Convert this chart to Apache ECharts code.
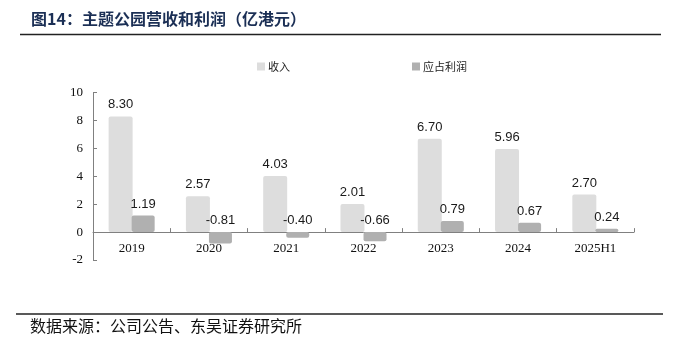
<!DOCTYPE html>
<html>
<head>
<meta charset="utf-8">
<script src="https://cdn.jsdelivr.net/npm/echarts@6/dist/echarts.min.js"></script>
<style>
html,body{margin:0;padding:0;background:#fff;}
#c{width:680px;height:349px;}
</style>
</head>
<body>
<div id="c"></div>
<script>
var categories = ['2019', '2020', '2021', '2022', '2023', '2024', '2025H1'];
var revenue = [8.30, 2.57, 4.03, 2.01, 6.70, 5.96, 2.70];
var profit = [1.19, -0.81, -0.40, -0.66, 0.79, 0.67, 0.24];
var seriesNames = ['收入', '应占利润'];
var yTicks = {min: -2, max: 10, interval: 2};

var chart = echarts.init(document.getElementById('c'), null, {renderer: 'canvas'});

var labelStyle = {
  show: true,
  position: 'top',
  distance: 5,
  fontFamily: 'Liberation Sans, Arial, sans-serif',
  fontSize: 13,
  color: '#1a1a1a',
  formatter: function (p) { return p.value.toFixed(2); }
};

chart.setOption({
  animation: false,
  backgroundColor: '#fff',
  graphic: [
    {type: 'text', left: 31, top: 11, style: {text: '图14：主题公园营收和利润（亿港元）', fontFamily: 'Noto Sans CJK SC', fontSize: 16, fontWeight: 'bold', fill: '#1B2F55'}},
    {type: 'line', shape: {x1: 20, y1: 34.5, x2: 661, y2: 34.5}, style: {stroke: '#222', lineWidth: 1.6}},
    {type: 'line', shape: {x1: 16, y1: 314, x2: 663, y2: 314}, style: {stroke: '#222', lineWidth: 1.6}},
    {type: 'text', left: 30, top: 318, style: {text: '数据来源：公司公告、东吴证券研究所', fontFamily: 'Noto Sans CJK SC', fontSize: 16, fill: '#111'}}
  ],
  legend: {
    data: seriesNames,
    left: 252,
    top: 56,
    itemWidth: 8,
    itemHeight: 8,
    itemGap: 122,
    icon: 'rect',
    textStyle: {fontFamily: 'Noto Sans CJK SC', fontSize: 11, color: '#222', padding: [0, 0, 0, -2]}
  },
  grid: {left: 93, right: 46, top: 92.7, bottom: 89, containLabel: false},
  xAxis: {
    type: 'category',
    data: categories,
    axisLine: {onZero: true, lineStyle: {color: '#808080', width: 1}},
    axisTick: {show: true, inside: true, length: 4, lineStyle: {color: '#808080'}},
    axisLabel: {fontFamily: 'Liberation Serif, Times New Roman, serif', fontSize: 13, color: '#111', margin: -18}
  },
  yAxis: {
    type: 'value',
    min: yTicks.min,
    max: yTicks.max,
    interval: yTicks.interval,
    splitLine: {show: false},
    axisLine: {show: true, lineStyle: {color: '#808080', width: 1}},
    axisTick: {show: true, inside: true, length: 4, lineStyle: {color: '#808080'}},
    axisLabel: {fontFamily: 'Liberation Serif, Times New Roman, serif', fontSize: 13, color: '#111', margin: 10}
  },
  series: [
    {
      name: seriesNames[0],
      type: 'bar',
      data: revenue,
      barWidth: 24,
      barGap: '-4%',
      itemStyle: {color: '#DDDDDD', borderRadius: 2},
      label: labelStyle
    },
    {
      name: seriesNames[1],
      type: 'bar',
      data: profit,
      barWidth: 23,
      itemStyle: {color: '#B0B0B0', borderRadius: 2},
      label: labelStyle
    }
  ]
});
</script>
</body>
</html>
